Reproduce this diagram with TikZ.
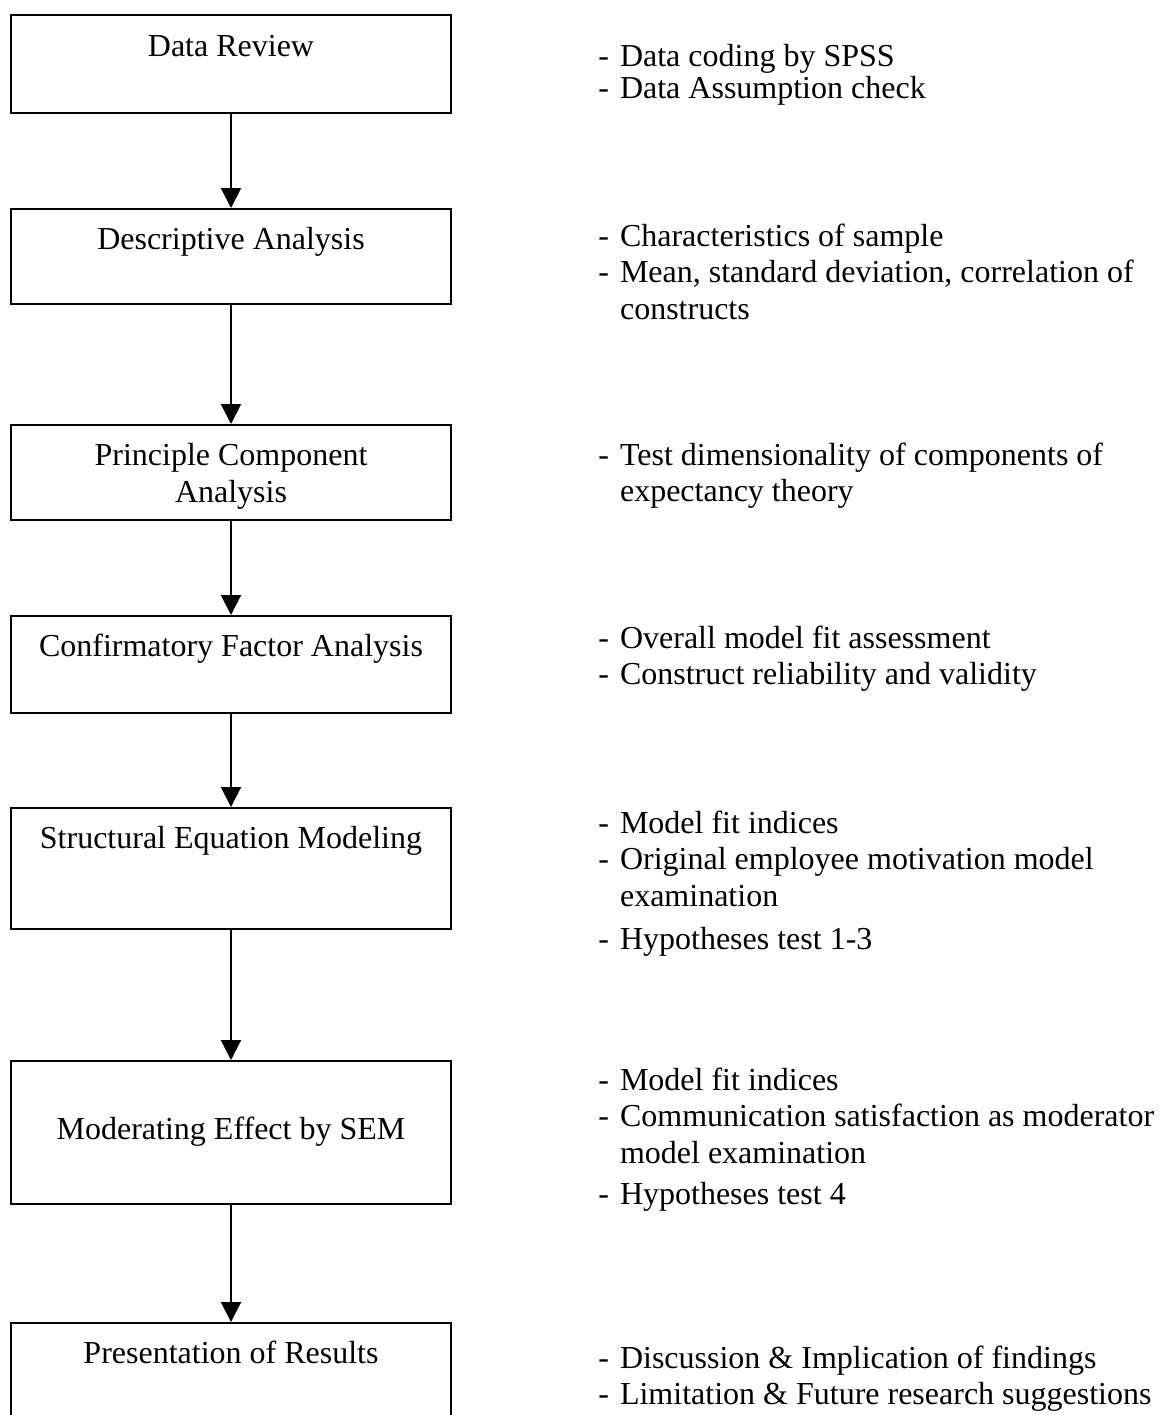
\documentclass[tikz,border=0pt]{standalone}
\usepackage{fontspec}
\setmainfont{Liberation Serif}
\usetikzlibrary{arrows.meta}

\begin{document}
\begin{tikzpicture}[x=0.5pt, y=-0.5pt,
		every node/.style={font=\fontsize{16}{18.4}\selectfont},
		stagebox/.style={draw, line width=1.1pt, minimum width=220pt, minimum height=#1, anchor=north, inner sep=0pt},
		stagelabel/.style={anchor=north, align=center, inner sep=0pt, yshift=-9.5pt},
		notes/.style={anchor=base west, inner sep=0pt},
		flow/.style={-{Triangle[length=10pt, width=10pt]}, line width=1pt}]
	% 1. 画布范围
	\useasboundingbox (0,0) rectangle (1165,1415);
	\clip (0,0) rectangle (1165,1415);
	
	% 2. 左侧流程框
	\node[stagebox=49pt, label={[stagelabel, yshift=-1pt]north:Data Review}] (review) at (231,14) {};
	\node[stagebox=47.5pt, label={[stagelabel]north:Descriptive Analysis}] (desc) at (231,208) {};
	\node[stagebox=47.5pt, label={[stagelabel]north:{Principle Component\\Analysis}}] (pca) at (231,424) {};
	\node[stagebox=48.5pt, label={[stagelabel]north:Confirmatory Factor Analysis}] (cfa) at (231,615) {};
	\node[stagebox=60.5pt, label={[stagelabel]north:Structural Equation Modeling}] (sem) at (231,807) {};
	\node[stagebox=71.5pt, text depth=4pt] (mod) at (231,1060) {Moderating Effect by SEM}; % 文字居中
	\node[stagebox=60pt, label={[stagelabel]north:Presentation of Results}] (result) at (231,1322) {}; % 底边在画面外
	
	% 3. 箭头
	\draw[flow] (review.south) -- (desc.north);
	\draw[flow] (desc.south) -- (pca.north);
	\draw[flow] (pca.south) -- (cfa.north);
	\draw[flow] (cfa.south) -- (sem.north);
	\draw[flow] (sem.south) -- (mod.north);
	\draw[flow] (mod.south) -- (result.north);
	
	% 4. 右侧说明
	\node[notes] (reviewnote) at (598,66) {\begin{tabular}[t]{@{}l@{\hspace{5.5pt}}l@{}}
		- & Data coding by SPSS\\[-2pt]
		- & Data Assumption check
	\end{tabular}};
	\node[notes] (descnote) at (598,246) {\begin{tabular}[t]{@{}l@{\hspace{5.5pt}}l@{}}
		- & Characteristics of sample\\
		- & Mean, standard deviation, correlation of\\
		& constructs
	\end{tabular}};
	\node[notes] (pcanote) at (598,465) {\begin{tabular}[t]{@{}l@{\hspace{5.5pt}}l@{}}
		- & Test dimensionality of components of\\
		& expectancy theory
	\end{tabular}};
	\node[notes] (cfanote) at (598,648) {\begin{tabular}[t]{@{}l@{\hspace{5.5pt}}l@{}}
		- & Overall model fit assessment\\
		- & Construct reliability and validity
	\end{tabular}};
	\node[notes] (semnote) at (598,833) {\begin{tabular}[t]{@{}l@{\hspace{5.5pt}}l@{}}
		- & Model fit indices\\
		- & Original employee motivation model\\
		& examination\\[3pt]
		- & Hypotheses test 1-3
	\end{tabular}};
	\node[notes] (modnote) at (598,1090) {\begin{tabular}[t]{@{}l@{\hspace{5.5pt}}l@{}}
		- & Model fit indices\\
		- & Communication satisfaction as moderator\\
		& model examination\\[2pt]
		- & Hypotheses test 4
	\end{tabular}};
	\node[notes] (resultnote) at (598,1368) {\begin{tabular}[t]{@{}l@{\hspace{5.5pt}}l@{}}
		- & Discussion \& Implication of findings\\
		- & Limitation \& Future research suggestions
	\end{tabular}};
\end{tikzpicture}
\end{document}
